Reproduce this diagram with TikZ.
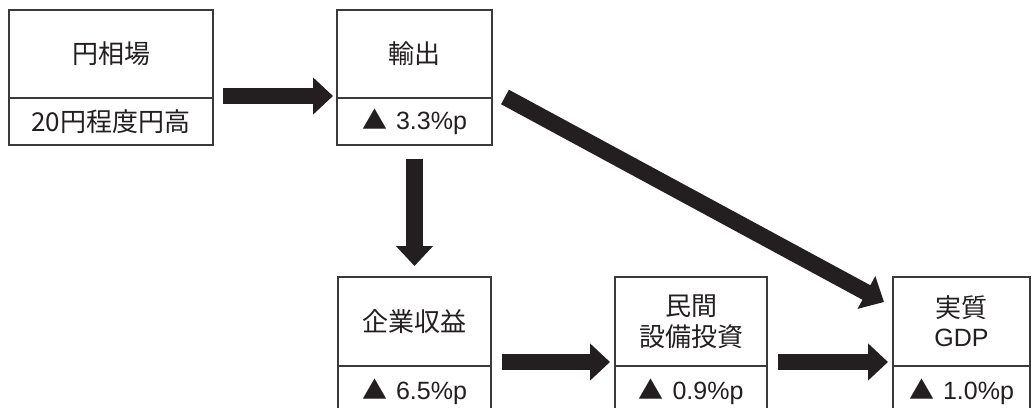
\documentclass[tikz,border=0pt]{standalone}
\usepackage{fontspec}
\setmainfont{Liberation Sans}
\newfontfamily\jp{Noto Sans CJK JP}
\usetikzlibrary{arrows.meta,calc}
\definecolor{ink}{HTML}{231F20}
\definecolor{edge}{HTML}{3A3A3A}
\begin{document}
\begin{tikzpicture}[x=1pt,y=-1pt,
  cell/.style={draw=edge, line width=1.1pt, inner sep=0pt, outer sep=0pt, text=ink, align=center,
    font=\fontsize{25}{32}\selectfont},
  bigarrow/.style={draw=ink, line width=16.5pt, -{Triangle[width=36pt,length=20pt]}}
]
\useasboundingbox (0,0) rectangle (1036,407);
\fill[white] (0,0) rectangle (1036,407);
% top row
\node[cell, minimum width=204pt, minimum height=88pt] (yen) at (111,54) {\jp\fontsize{26}{32}\selectfont 円相場};
\node[cell, minimum width=204pt, minimum height=47pt] (yenv) at (111,121.5) {\jp\fontsize{26}{32}\selectfont 20円程度円高};
\node[cell, minimum width=155pt, minimum height=88pt] (exp) at (414.5,54) {\jp\fontsize{26}{32}\selectfont 輸出};
\node[cell, minimum width=155pt, minimum height=47pt] (expv) at (414.5,121.5) {{\jp ▲}\hspace{9pt}3.3\%p};
% bottom row
\node[cell, minimum width=153pt, minimum height=89pt] (prof) at (414.5,321.5) {\jp\fontsize{26}{32}\selectfont 企業収益};
\node[cell, minimum width=153pt, minimum height=52pt] (profv) at (414.5,392) {{\jp ▲}\hspace{9pt}6.5\%p};
\node[cell, minimum width=152pt, minimum height=89pt] (inv) at (691,321.5) {\jp\fontsize{26}{32}\selectfont 民間\\[-1pt]\jp\fontsize{26}{32}\selectfont 設備投資};
\node[cell, minimum width=152pt, minimum height=52pt] (invv) at (691,392) {{\jp ▲}\hspace{9pt}0.9\%p};
\node[cell, minimum width=137pt, minimum height=89pt] (gdp) at (961.5,321.5) {\jp\fontsize{26}{32}\selectfont 実質\\[-3pt]GDP};
\node[cell, minimum width=137pt, minimum height=52pt] (gdpv) at (961.5,392) {{\jp ▲}\hspace{9pt}1.0\%p};
% arrows
\draw[bigarrow, shorten <=10pt, shorten >=4pt] ([yshift=2pt]yen.south east) -- ([yshift=2pt]exp.south west);
\draw[bigarrow, shorten <=14pt, shorten >=11pt] (expv.south) -- (prof.north);
\draw[bigarrow, shorten <=11pt, shorten >=5pt] ([yshift=4pt]prof.south east) -- ([yshift=4pt]inv.south west);
\draw[bigarrow, shorten <=11pt, shorten >=5pt] ([yshift=4pt]inv.south east) -- ([yshift=4pt]gdp.south west);
\coordinate (dstart) at ($(exp.south east)+(13,-1)$);
\coordinate (dend) at ($(gdp.north west)+(-9,25)$);
\draw[bigarrow] (dstart) -- (dend);
\end{tikzpicture}
\end{document}
